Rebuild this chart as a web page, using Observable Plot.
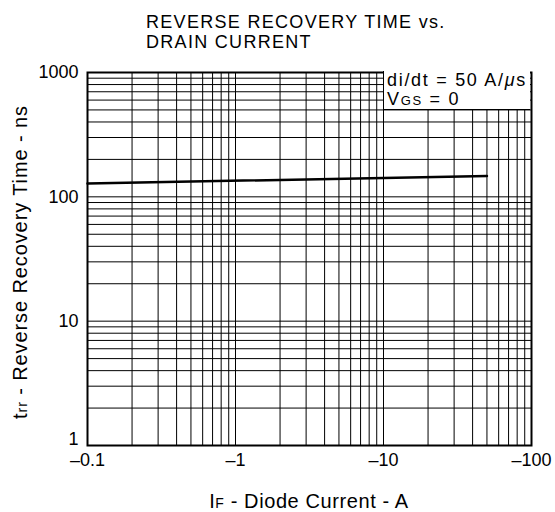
<!DOCTYPE html>
<html><head><meta charset="utf-8">
<script src="https://cdn.jsdelivr.net/npm/d3@7"></script>
<script src="https://cdn.jsdelivr.net/npm/@observablehq/plot@0.6"></script>
<style>
body{margin:0;background:#fff;font-family:"Liberation Sans",Arial,sans-serif;}
#wrap{position:relative;width:555px;height:512px;}
.t{position:absolute;color:#000;white-space:nowrap;}
</style></head><body>
<div id="wrap"></div>
<script>
const currentA = [0.1, 50];        // IF (A), shown as negative
const trrNs = [128, 147];          // trr (ns)
const xTickValues = [0.1, 1, 10, 100];
const xTickLabels = ["–0.1", "–1", "–10", "–100"];
const yTickValues = [1, 10, 100, 1000];
const yTickLabels = ["1", "10", "100", "1000"];
const titleLines = ["REVERSE RECOVERY TIME vs.", "DRAIN CURRENT"];

const pts = currentA.map((x, i) => ({x, y: trrNs[i]}));
const xMinor = d3.scaleLog().domain([0.1, 100]).ticks();
const yMinor = d3.scaleLog().domain([1, 1000]).ticks();
const yFmt = d => yTickLabels[yTickValues.indexOf(d)];

const chart = Plot.plot({
  width: 555, height: 512,
  marginLeft: 87, marginRight: 24, marginTop: 72, marginBottom: 67,
  style: {fontFamily: '"Liberation Sans", Arial, sans-serif', fontSize: "18px", color: "#000", background: "#fff"},
  x: {type: "log", domain: [0.1, 100]},
  y: {type: "log", domain: [1, 1000]},
  marks: [
    Plot.ruleX(xMinor, {stroke: "#000", strokeWidth: 1}),
    Plot.ruleY(yMinor, {stroke: "#000", strokeWidth: 1}),
    Plot.axisX({ticks: xTickValues, tickFormat: d => xTickLabels[xTickValues.indexOf(d)], tickSize: 0, tickPadding: 8, label: null, fontSize: 18}),
    Plot.axisY({ticks: yTickValues.slice(1), tickFormat: yFmt, tickSize: 0, tickPadding: 9, label: null, fontSize: 18}),
    Plot.axisY({ticks: yTickValues.slice(0, 1), tickFormat: yFmt, tickSize: 0, tickPadding: 9, dy: -6, label: null, fontSize: 18}),
    Plot.line(pts, {x: "x", y: "y", stroke: "#000", strokeWidth: 2.5}),
    Plot.frame({stroke: "#000", strokeWidth: 2})
  ]
});
const wrap = document.getElementById("wrap");
wrap.appendChild(chart);

function add(html, css) {
  const d = document.createElement("div");
  d.className = "t";
  d.innerHTML = html;
  Object.assign(d.style, css);
  wrap.appendChild(d);
  return d;
}
add(titleLines.join("<br>"), {left: "146px", top: "12px", fontSize: "18px", lineHeight: "20px", letterSpacing: "1.3px"});
add('di/dt = 50 A/<i>μ</i>s<br>V<span style="font-size:13px">GS</span> = 0',
  {left: "383px", top: "71px", width: "147px", height: "39px", background: "#fff", borderLeft: "1.5px solid #000",
   borderBottom: "1.5px solid #000", fontSize: "18px", lineHeight: "19px", paddingLeft: "3px", boxSizing: "border-box",
   paddingTop: "0px", letterSpacing: "1.7px"});
add('I<span style="font-size:14px">F</span> - Diode Current - A', {left: "309px", top: "490px", fontSize: "20px", letterSpacing: "0.6px", transform: "translateX(-50%)"});
add('t<span style="font-size:14px">rr</span> - Reverse Recovery Time - ns',
  {left: "20px", top: "262px", fontSize: "20px", letterSpacing: "0.9px", transform: "translate(-50%,-50%) rotate(-90deg)"});
</script>
</body></html>
